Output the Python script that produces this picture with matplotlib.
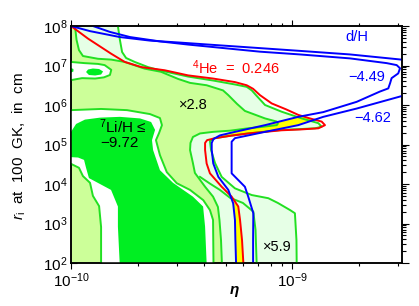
import numpy as np
import matplotlib
matplotlib.use("Agg")
import matplotlib.pyplot as plt
from matplotlib.ticker import LogLocator, LogFormatterMathtext, NullFormatter, FixedLocator

plt.rcParams['font.family'] = ['Liberation Sans', 'DejaVu Sans']
plt.rcParams['mathtext.fontset'] = 'custom'
plt.rcParams['mathtext.rm'] = 'Liberation Sans'
plt.rcParams['mathtext.it'] = 'Liberation Sans:italic'
plt.rcParams['mathtext.bf'] = 'Liberation Sans:bold'

# ------------------------------------------------------------------
# Data.
# *_lx : log10(eta / 1e-10)      *_ly : log10(r_i / cm)
# ------------------------------------------------------------------
ETA_LOG0 = -10.0
ETA_SPAN = 1.496
R_LOG_MIN, R_LOG_MAX = 2.0, 8.0
X_MAJOR_LOG = [0.0, 1.0]
Y_MAJOR_LOG = [2, 3, 4, 5, 6, 7, 8]

# 4He = 0.246 contour (red)
he_lx = [0.000, 0.077, 0.181, 0.243, 0.318, 0.423, 0.529, 0.642, 0.741, 0.794, 0.823, 0.854,
         0.907, 0.972, 1.027, 1.080, 1.133, 1.148, 1.118, 1.035, 0.952, 0.877, 0.801, 0.719,
         0.651, 0.615, 0.606, 0.606, 0.613, 0.628, 0.681, 0.726, 0.756, 0.764, 0.773, 0.779]
he_ly = [8.00, 7.68, 7.30, 7.09, 6.96, 6.88, 6.75, 6.67, 6.58, 6.50, 6.41, 6.25,
         6.04, 5.89, 5.75, 5.66, 5.58, 5.49, 5.41, 5.38, 5.36, 5.32, 5.28, 5.22,
         5.16, 5.11, 5.04, 4.86, 4.52, 4.27, 3.93, 3.68, 3.43, 3.09, 2.58, 2.00]

# d/H = -4.49 contour (blue)
dh1_lx = [0.746, 0.743, 0.741, 0.733, 0.711, 0.666, 0.643, 0.636, 0.636, 0.644, 0.673, 0.741,
          0.877, 1.027, 1.140, 1.291, 1.396, 1.434, 1.442, 1.449, 1.479, 1.487, 1.472, 1.427,
          1.261, 1.035, 0.854, 0.673, 0.529, 0.402, 0.267, 0.176, 0.099]
dh1_ly = [2.00, 2.58, 3.09, 3.51, 3.85, 4.18, 4.52, 4.86, 5.04, 5.14, 5.23, 5.32,
          5.49, 5.70, 5.82, 6.08, 6.34, 6.42, 6.55, 6.68, 6.80, 6.93, 7.01, 7.06,
          7.18, 7.28, 7.35, 7.45, 7.53, 7.61, 7.72, 7.85, 8.00]

# d/H = -4.62 contour (blue), two pieces
dh2_lo_lx = [0.823, 0.823, 0.824, 0.801, 0.786, 0.756, 0.726, 0.726, 0.726, 0.741, 0.877,
             1.027, 1.140, 1.291, 1.510]
dh2_lo_ly = [2.00, 2.58, 3.26, 3.68, 3.93, 4.10, 4.27, 4.86, 5.07, 5.16, 5.32,
             5.49, 5.70, 5.91, 6.25]
dh2_hi_lx = [0.000, 0.086, 0.221, 0.357, 0.493, 0.673, 0.854, 1.035, 1.261, 1.510]
dh2_hi_ly = [8.00, 7.87, 7.72, 7.63, 7.58, 7.51, 7.44, 7.37, 7.28, 7.14]

# 7Li x5.9 contour (outer, very light green region)
vl_lx = [0.212, 0.221, 0.231, 0.249, 0.288, 0.348, 0.407, 0.529, 0.642, 0.741, 0.794, 0.817,
         0.836, 0.877, 0.952, 1.043, 1.118, 1.133, 1.103, 1.035, 0.952, 0.801, 0.719, 0.651,
         0.628, 0.633, 0.651, 0.681, 0.741, 0.817, 0.892, 0.935, 0.990, 1.012, 1.019, 1.020]
vl_ly = [8.00, 7.65, 7.34, 7.19, 7.09, 6.96, 6.87, 6.72, 6.62, 6.52, 6.46, 6.37,
         6.25, 6.00, 5.83, 5.66, 5.54, 5.45, 5.41, 5.39, 5.37, 5.28, 5.22, 5.16,
         5.09, 4.86, 4.53, 4.18, 3.89, 3.72, 3.64, 3.52, 3.34, 3.26, 2.58, 2.00]

# 7Li x2.8 contour (light green region)
lg_lx = [0.018, 0.025, 0.036, 0.054, 0.122, 0.181, 0.243, 0.333, 0.407, 0.484, 0.538, 0.613,
         0.687, 0.711, 0.750, 0.786, 0.877, 0.930, 0.935, 0.930, 0.854, 0.800, 0.719, 0.642,
         0.583, 0.551, 0.540, 0.538, 0.551, 0.560, 0.606, 0.642, 0.664, 0.671, 0.678, 0.682]
lg_ly = [8.00, 7.65, 7.39, 7.24, 7.17, 7.15, 7.09, 6.92, 6.84, 6.66, 6.56, 6.50,
         6.37, 6.25, 6.03, 5.85, 5.66, 5.58, 5.53, 5.49, 5.44, 5.41, 5.35, 5.32,
         5.28, 5.19, 5.04, 4.86, 4.53, 4.28, 3.93, 3.68, 3.42, 3.09, 2.58, 2.00]

# second x2.8 branch near the bottom
q_lx = [0.583, 0.628, 0.673, 0.719, 0.777, 0.824, 0.834, 0.839]
q_ly = [4.18, 4.01, 3.85, 3.65, 3.52, 3.30, 2.84, 2.00]

# white margin around the 7Li/H <= -9.72 region
halo_lx = [0.000, 0.136, 0.253, 0.357, 0.402, 0.411, 0.398, 0.384, 0.402, 0.433, 0.478, 0.538,
           0.598, 0.628, 0.642, 0.644]
halo_ly = [5.87, 5.90, 5.87, 5.77, 5.67, 5.49, 5.29, 5.11, 4.73, 4.30, 4.02, 3.85,
           3.59, 3.34, 3.09, 2.00]
halo_left_lx = [0.000, 0.036, 0.054, 0.086, 0.099, 0.127, 0.136, 0.136]
halo_left_ly = [4.51, 4.41, 4.20, 4.03, 3.70, 3.44, 2.91, 2.00]

# 7Li/H <= -9.72 region (bright green)
li_lx = [0.000, 0.023, 0.063, 0.131, 0.221, 0.312, 0.362, 0.380, 0.366, 0.371, 0.402, 0.461,
         0.551, 0.597, 0.606, 0.613, 0.220, 0.212, 0.212, 0.181, 0.131, 0.081, 0.068, 0.059,
         0.032, 0.000]
li_ly = [5.32, 5.52, 5.63, 5.68, 5.70, 5.66, 5.57, 5.37, 5.11, 4.86, 4.35, 4.03,
         3.68, 3.43, 2.92, 2.00, 2.00, 2.92, 3.43, 3.85, 4.00, 4.15, 4.41, 4.61,
         4.67, 4.68]

# small island at the upper left
hole_lx = [0.000, 0.062, 0.122, 0.152, 0.182, 0.176, 0.149, 0.109, 0.050, 0.000]
hole_ly = [7.09, 7.06, 7.04, 7.01, 6.89, 6.76, 6.70, 6.67, 6.68, 6.63]
isle_lx = [0.068, 0.077, 0.099, 0.127, 0.145, 0.136, 0.109, 0.081]
isle_ly = [6.835, 6.899, 6.924, 6.911, 6.848, 6.772, 6.747, 6.760]
isle2_lx = [0.000, 0.011, 0.011, 0.000]
isle2_ly = [6.937, 6.911, 6.848, 6.823]

# overlap of the 4He and d/H bands (yellow)
yb_lx = [0.728, 0.756, 0.764, 0.773, 0.779, 0.746, 0.743, 0.741, 0.733]
yb_ly = [3.59, 3.43, 3.09, 2.58, 2.00, 2.00, 2.58, 3.09, 3.51]
yw_lx = [0.682, 0.741, 0.877, 0.999, 1.057, 1.094, 1.027, 0.954, 0.877, 0.801, 0.741, 0.682]
yw_ly = [5.233, 5.324, 5.494, 5.673, 5.699, 5.638, 5.494, 5.408, 5.324, 5.284, 5.228, 5.190]

# ------------------------------------------------------------------
C_VL = '#e6ffe6'
C_LG = '#ccff99'
C_LI = '#00ee22'
C_LINE = '#22e022'
C_RED = '#ff0000'
C_BLUE = '#0000ff'
C_YEL = '#ffff00'
LW = 1.4


def ex(a):
    return 10.0 ** (ETA_LOG0 + np.asarray(a, dtype=float))


def ey(a):
    return 10.0 ** np.asarray(a, dtype=float)


fig = plt.figure(figsize=(4.19, 3.06), dpi=100)
ax = fig.add_axes([71 / 419, 43 / 306, 331 / 419, 237 / 306])
ax.set_xscale('log')
ax.set_yscale('log')

edge_x = [0.0, 0.0]
edge_y = [R_LOG_MIN, R_LOG_MAX]

# fills
ax.fill(ex(vl_lx + edge_x), ey(vl_ly + edge_y), color=C_VL, lw=0, zorder=1)
ax.fill(ex(lg_lx + edge_x), ey(lg_ly + edge_y), color=C_LG, lw=0, zorder=2)
ax.fill(ex(hole_lx), ey(hole_ly), color='white', lw=0, zorder=3)
ax.fill(ex(halo_lx + halo_left_lx[::-1]), ey(halo_ly + halo_left_ly[::-1]),
        color='white', lw=0, zorder=3)
for px, py in ((li_lx, li_ly), (isle_lx, isle_ly), (isle2_lx, isle2_ly)):
    ax.fill(ex(px), ey(py), color=C_LI, lw=0, zorder=4)
ax.fill(ex(yb_lx), ey(yb_ly), color=C_YEL, lw=0, zorder=5)
ax.fill(ex(yw_lx), ey(yw_ly), color=C_YEL, lw=0, zorder=5)

# contour lines
for px, py in ((vl_lx, vl_ly), (lg_lx, lg_ly), (q_lx, q_ly), (halo_lx, halo_ly),
               (halo_left_lx, halo_left_ly), (hole_lx, hole_ly)):
    ax.plot(ex(px), ey(py), color=C_LINE, lw=LW, zorder=6, solid_joinstyle='round')
ax.plot(ex(he_lx), ey(he_ly), color=C_RED, lw=LW, zorder=7)
for px, py in ((dh1_lx, dh1_ly), (dh2_lo_lx, dh2_lo_ly), (dh2_hi_lx, dh2_hi_ly)):
    ax.plot(ex(px), ey(py), color=C_BLUE, lw=LW, zorder=7)

ax.set_xlim(ex(0.0), ex(ETA_SPAN))
ax.set_ylim(ey(R_LOG_MIN), ey(R_LOG_MAX))

# ticks
ax.xaxis.set_major_locator(FixedLocator(ex(X_MAJOR_LOG)))
ax.xaxis.set_minor_locator(LogLocator(base=10, subs=np.arange(2, 10)))
ax.xaxis.set_major_formatter(LogFormatterMathtext())
ax.xaxis.set_minor_formatter(NullFormatter())
ax.yaxis.set_major_locator(FixedLocator(ey(Y_MAJOR_LOG)))
ax.yaxis.set_minor_locator(LogLocator(base=10, subs=np.arange(2, 10)))
ax.yaxis.set_major_formatter(LogFormatterMathtext())
ax.yaxis.set_minor_formatter(NullFormatter())

ax.tick_params(axis='x', which='both', direction='out', top=True, bottom=True,
               width=0.8, labelsize=11, pad=1.6)
ax.tick_params(axis='x', which='major', length=4.3)
ax.tick_params(axis='x', which='minor', length=2.4)
ax.tick_params(axis='y', which='both', direction='in', left=True, right=False,
               width=0.8, labelsize=11, pad=2.5)
ax.tick_params(axis='y', which='major', length=4.2)
ax.tick_params(axis='y', which='minor', length=2.5)

tw = ax.twinx()
tw.set_yscale('log')
tw.set_ylim(ax.get_ylim())
tw.yaxis.set_major_locator(FixedLocator(ey(Y_MAJOR_LOG)))
tw.yaxis.set_minor_locator(LogLocator(base=10, subs=np.arange(2, 10)))
tw.yaxis.set_major_formatter(NullFormatter())
tw.yaxis.set_minor_formatter(NullFormatter())
tw.tick_params(axis='y', which='both', direction='out', width=0.8)
tw.tick_params(axis='y', which='major', length=4.8)
tw.tick_params(axis='y', which='minor', length=2.8)

for a in (ax, tw):
    for s in a.spines.values():
        s.set_linewidth(1.1)

# labels
fig.text(19 / 419, 1 - 146.5 / 306, r'$r_{\rm i}$  at  100  GK,  in  cm', rotation=90,
         ha='center', va='center', fontsize=11)
fig.text(234 / 419, 1 - 294 / 306, 'η', ha='center', va='baseline', fontsize=11,
         fontstyle='italic', fontweight='bold')


def at(x, y):
    return ((x - 71) / 331, (263 - y) / 237)


txt = dict(transform=ax.transAxes, ha='center', va='center', zorder=10)
ax.text(*at(357, 37), 'd/H', color=C_BLUE, fontsize=10.5, **txt)
ax.text(*at(367, 77), '\u22124.49', color=C_BLUE, fontsize=10.5, **txt)
ax.text(*at(373, 118), '\u22124.62', color=C_BLUE, fontsize=10.5, **txt)
ax.text(*at(236, 68), r'$^{4}$He  =  0.246', color=C_RED, fontsize=10.5, **txt)
ax.text(*at(193, 105), '\u00d72.8', color='black', fontsize=10.5, **txt)
ax.text(*at(277, 247), '\u00d75.9', color='black', fontsize=10.5, **txt)
ax.text(*at(123, 127), r'$^{7}$Li/H ≤', color='black', fontsize=11, **txt)
ax.text(*at(119, 143), '\u22129.72', color='black', fontsize=11, **txt)

fig.savefig('out.png', dpi=100)
